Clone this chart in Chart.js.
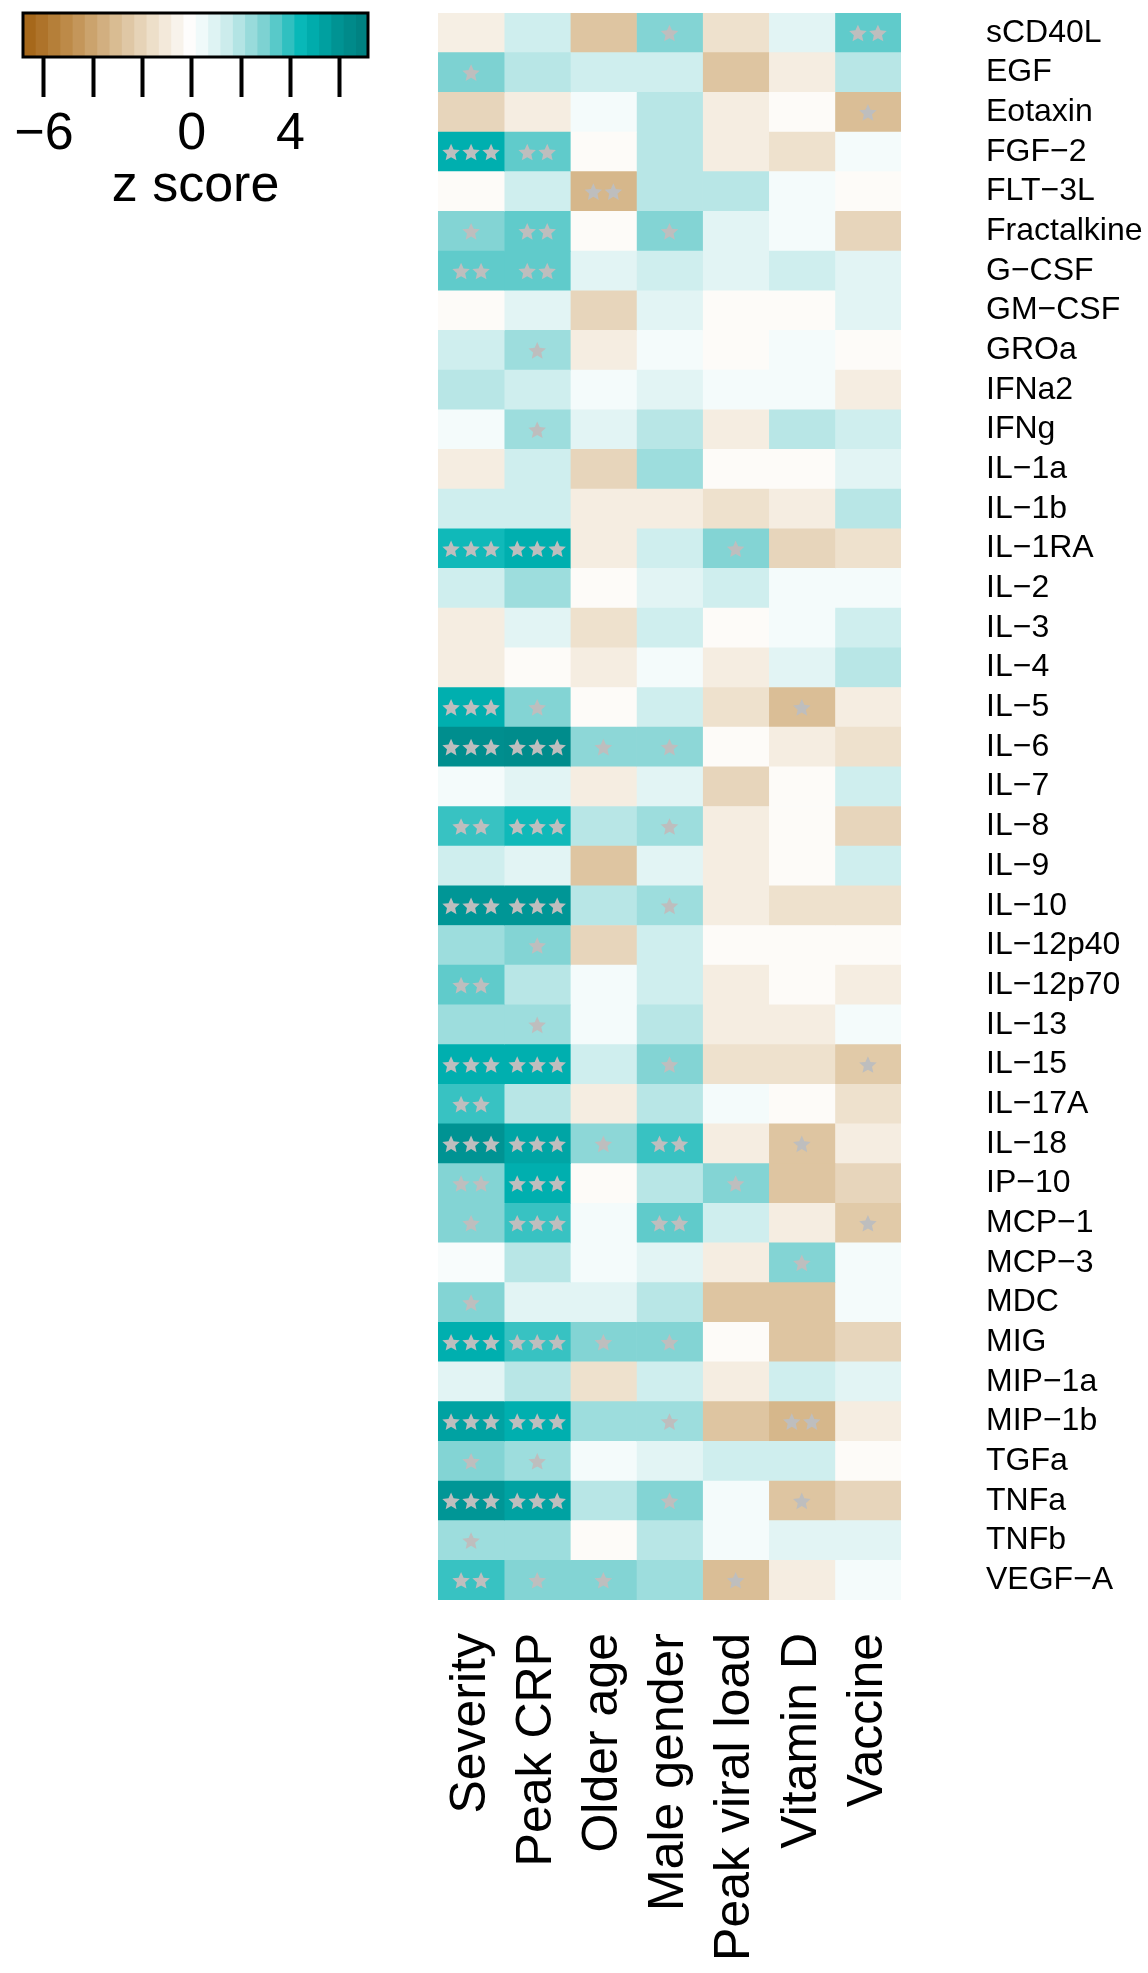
<!DOCTYPE html>
<html>
<head>
<meta charset="utf-8">
<script src="https://cdn.jsdelivr.net/npm/chart.js@4.4.1/dist/chart.umd.min.js"></script>
<style>
  html, body { margin: 0; padding: 0; background: #fff; }
  #wrap { position: relative; width: 1148px; height: 1973px; }
  #heat { position: absolute; left: 0; top: 0; }
  #key { position: absolute; left: 0; top: 0; }
</style>
</head>
<body>
<div id="wrap">
  <canvas id="heat" width="1148" height="1973"></canvas>
  <canvas id="key" width="400" height="230"></canvas>
</div>
<script>
// row and column names
const cytokines = ['sCD40L','EGF','Eotaxin','FGF\u22122','FLT\u22123L','Fractalkine','G\u2212CSF','GM\u2212CSF','GROa','IFNa2',
  'IFNg','IL\u22121a','IL\u22121b','IL\u22121RA','IL\u22122','IL\u22123','IL\u22124','IL\u22125','IL\u22126','IL\u22127',
  'IL\u22128','IL\u22129','IL\u221210','IL\u221212p40','IL\u221212p70','IL\u221213','IL\u221215','IL\u221217A','IL\u221218','IP\u221210',
  'MCP\u22121','MCP\u22123','MDC','MIG','MIP\u22121a','MIP\u22121b','TGFa','TNFa','TNFb','VEGF\u2212A'];
const factors = ['Severity','Peak CRP','Older age','Male gender','Peak viral load','Vitamin D','Vaccine'];

// z scores, one array per column (rows in cytokine order)
const severity = [-0.8,2.9,-2.0,4.8,-0.2,2.8,3.3,-0.2,1.3,1.8, 0.3,-0.9,1.3,4.3,1.3,-0.9,-0.9,4.8,6.2,0.3,
  3.8,1.3,5.8,2.3,3.3,2.3,4.8,3.8,5.9,2.8, 2.8,0.2,2.8,4.8,0.8,5.3,2.8,5.8,2.3,3.8];
const peakCRP = [1.3,1.8,-0.9,3.3,1.3,3.3,3.3,0.8,2.3,1.3, 2.3,1.3,1.3,4.8,2.3,0.8,-0.2,2.8,6.3,0.8,
  4.3,0.8,5.8,2.8,1.8,2.3,4.8,1.8,5.2,4.8, 3.8,1.8,0.8,3.8,1.8,4.8,2.3,5.3,2.3,2.8];
const olderAge = [-2.7,1.3,0.3,-0.2,-3.3,-0.2,0.8,-2.0,-0.9,0.3, 0.8,-2.0,-0.9,-0.9,-0.2,-1.5,-0.9,-0.2,2.6,-0.9,
  1.8,-2.7,1.8,-2.0,0.3,0.3,1.3,-0.9,2.6,-0.2, 0.3,0.3,0.8,2.8,-1.5,2.3,0.3,1.8,-0.2,2.8];
const maleGender = [2.8,1.3,1.8,1.8,1.8,2.8,1.3,0.8,0.3,0.8, 1.8,2.3,-0.9,1.3,0.8,1.3,0.3,1.3,2.6,0.8,
  2.3,0.8,2.3,1.3,1.3,1.8,2.8,1.8,3.8,1.8, 3.3,0.8,1.8,2.8,1.3,2.3,0.8,2.8,1.8,2.3];
const viralLoad = [-1.5,-2.7,-0.9,-0.9,1.8,0.8,0.8,-0.2,-0.2,0.3, -0.9,-0.2,-1.5,2.8,1.3,-0.2,-0.9,-1.5,-0.2,-2.0,
  -0.9,-0.9,-0.9,-0.2,-0.9,-0.9,-1.5,0.3,-0.9,2.8, 1.3,-0.9,-2.7,-0.2,-0.9,-2.7,1.3,0.3,0.3,-3.0];
const vitaminD = [0.8,-0.9,-0.2,-1.5,0.3,0.3,1.3,-0.2,0.3,0.3, 1.8,-0.2,-0.9,-2.0,0.3,0.3,0.8,-3.0,-0.9,-0.2,
  -0.2,-0.2,-1.5,-0.2,-0.2,-0.9,-1.5,-0.2,-2.7,-2.7, -0.9,2.8,-2.7,-2.7,1.3,-3.3,1.3,-2.7,0.8,-0.9];
const vaccine = [3.3,1.8,-3.0,0.3,-0.2,-2.0,0.8,0.8,-0.2,-0.9, 1.3,0.8,1.8,-1.5,0.3,1.3,1.8,-0.9,-1.5,1.3,
  -2.0,1.3,-1.5,-0.2,-0.9,0.3,-2.5,-1.5,-0.9,-2.0, -2.5,0.3,0.3,-2.0,0.8,-0.9,-0.2,-2.0,0.8,0.3];

// significance stars per column
const starsSeverity = [0,1,0,3,0,1,2,0,0,0, 0,0,0,3,0,0,0,3,3,0, 2,0,3,0,2,0,3,2,3,2, 1,0,1,3,0,3,1,3,1,2];
const starsCRP      = [0,0,0,2,0,2,2,0,1,0, 1,0,0,3,0,0,0,1,3,0, 3,0,3,1,0,1,3,0,3,3, 3,0,0,3,0,3,1,3,0,1];
const starsAge      = [0,0,0,0,2,0,0,0,0,0, 0,0,0,0,0,0,0,0,1,0, 0,0,0,0,0,0,0,0,1,0, 0,0,0,1,0,0,0,0,0,1];
const starsMale     = [1,0,0,0,0,1,0,0,0,0, 0,0,0,0,0,0,0,0,1,0, 1,0,1,0,0,0,1,0,2,0, 2,0,0,1,0,1,0,1,0,0];
const starsViral    = [0,0,0,0,0,0,0,0,0,0, 0,0,0,1,0,0,0,0,0,0, 0,0,0,0,0,0,0,0,0,1, 0,0,0,0,0,0,0,0,0,1];
const starsVitD     = [0,0,0,0,0,0,0,0,0,0, 0,0,0,0,0,0,0,1,0,0, 0,0,0,0,0,0,0,0,1,0, 0,1,0,0,0,2,0,1,0,0];
const starsVaccine  = [2,0,1,0,0,0,0,0,0,0, 0,0,0,0,0,0,0,0,0,0, 0,0,0,0,0,0,1,0,0,0, 1,0,0,0,0,0,0,0,0,0];

// legend tick labels
const keyTicks = [-6,-4,-2,0,2,4,6];
const keyTickLabels = ['\u22126','','','0','','4',''];

const columns = [severity, peakCRP, olderAge, maleGender, viralLoad, vitaminD, vaccine];
const columnStars = [starsSeverity, starsCRP, starsAge, starsMale, starsViral, starsVitD, starsVaccine];

// brown - white - teal ramp
const stops = [[-7,[160,95,15]],[-5,[190,140,75]],[-3,[218,190,150]],[-1.5,[238,225,205]],[0,[255,255,255]],
  [1.5,[200,235,235]],[3,[120,208,208]],[4.5,[0,182,182]],[6,[0,145,145]],[7,[0,128,128]]];
function zColor(v) {
  if (v <= stops[0][0]) return 'rgb(' + stops[0][1].join(',') + ')';
  for (let i = 1; i < stops.length; i++) {
    if (v <= stops[i][0]) {
      const a = stops[i-1], b = stops[i];
      const t = (v - a[0]) / (b[0] - a[0]);
      const c = a[1].map((x, k) => Math.round(x + (b[1][k] - x) * t));
      return 'rgb(' + c.join(',') + ')';
    }
  }
  return 'rgb(' + stops[stops.length-1][1].join(',') + ')';
}

const FONT = '"Liberation Sans", Arial, Helvetica, sans-serif';

function star(ctx, cx, cy, R, r) {
  ctx.beginPath();
  for (let i = 0; i < 10; i++) {
    const rad = i % 2 ? r : R;
    const a = -Math.PI / 2 + i * Math.PI / 5;
    const px = cx + rad * Math.cos(a), py = cy + rad * Math.sin(a);
    if (i) ctx.lineTo(px, py); else ctx.moveTo(px, py);
  }
  ctx.closePath();
  ctx.fill();
}

const starPlugin = {
  id: 'stars',
  afterDatasetsDraw(chart) {
    const ctx = chart.ctx, xs = chart.scales.x, ys = chart.scales.y;
    const gap = 20;
    ctx.save();
    ctx.fillStyle = '#BEBEBE';
    columnStars.forEach((arr, c) => {
      arr.forEach((n, r) => {
        if (!n) return;
        const x = xs.getPixelForValue(c + 0.5);
        const y = ys.getPixelForValue(r) + 1;
        for (let k = 0; k < n; k++) star(ctx, x + (k - (n - 1) / 2) * gap, y, 9.2, 4.3);
      });
    });
    ctx.restore();
  }
};

new Chart(document.getElementById('heat'), {
  type: 'bar',
  data: {
    labels: cytokines,
    datasets: columns.map((vals, c) => ({
      label: factors[c],
      data: vals.map(() => [c, c + 1]),
      backgroundColor: vals.map(zColor),
      borderWidth: 0,
      grouped: false,
      barPercentage: 1,
      categoryPercentage: 1
    }))
  },
  options: {
    indexAxis: 'y',
    responsive: false,
    animation: false,
    layout: { padding: { left: 438, top: 13, right: 0, bottom: 0 } },
    plugins: { legend: { display: false }, tooltip: { enabled: false } },
    scales: {
      x: { type: 'linear', min: 0, max: 7, display: false },
      x2: {
        type: 'category', labels: factors, position: 'bottom', offset: true,
        grid: { display: false }, border: { display: false },
        ticks: { autoSkip: false, minRotation: 90, maxRotation: 90, padding: 25, color: '#000',
          font: { family: FONT, size: 50 } },
        afterFit(s) { s.height = 373; s.paddingLeft = 0; s.paddingRight = 0; }
      },
      y: {
        type: 'category', position: 'right',
        grid: { display: false }, border: { display: false },
        ticks: { autoSkip: false, padding: 77, color: '#000', font: { family: FONT, size: 32 } },
        afterFit(s) { s.width = 247; s.paddingTop = 0; s.paddingBottom = 0; }
      }
    }
  },
  plugins: [starPlugin]
});

// colour key
const keyStart = -6.85, keyEnd = 7.15, keyStep = 0.5;
const keyBands = [];
for (let b = keyStart; b < keyEnd - 1e-9; b += keyStep) keyBands.push([b, Math.min(b + keyStep, keyEnd)]);

const framePlugin = {
  id: 'frame',
  afterDatasetsDraw(chart) {
    const a = chart.chartArea, ctx = chart.ctx;
    ctx.save();
    ctx.strokeStyle = '#000';
    ctx.lineWidth = 3;
    ctx.strokeRect(a.left, a.top, a.right - a.left, a.bottom - a.top);
    ctx.restore();
  }
};

new Chart(document.getElementById('key'), {
  type: 'bar',
  data: {
    labels: ['key'],
    datasets: keyBands.map(b => ({
      data: [b],
      backgroundColor: zColor((b[0] + b[1]) / 2),
      borderWidth: 0,
      grouped: false,
      barPercentage: 1,
      categoryPercentage: 1
    }))
  },
  options: {
    indexAxis: 'y',
    responsive: false,
    animation: false,
    layout: { padding: { left: 23, top: 13, right: 32, bottom: 0 } },
    plugins: { legend: { display: false }, tooltip: { enabled: false } },
    scales: {
      y: { type: 'category', display: false },
      x: {
        type: 'linear', min: keyStart, max: keyEnd, position: 'bottom',
        afterBuildTicks(s) { s.ticks = keyTicks.map(v => ({ value: v })); },
        grid: { drawOnChartArea: false, drawTicks: true, tickLength: 40, tickWidth: 4, tickColor: '#000' },
        border: { display: false },
        ticks: {
          autoSkip: false, maxRotation: 0, padding: 6, color: '#000', font: { family: FONT, size: 52 },
          callback(v) { const i = keyTicks.indexOf(v); return i >= 0 ? keyTickLabels[i] : ''; }
        },
        title: { display: true, text: 'z score', color: '#000', font: { family: FONT, size: 52 },
          padding: { top: 0, bottom: 12 } },
        afterFit(s) { s.height = 173; s.paddingLeft = 0; s.paddingRight = 0; }
      }
    }
  },
  plugins: [framePlugin]
});
</script>
</body>
</html>
